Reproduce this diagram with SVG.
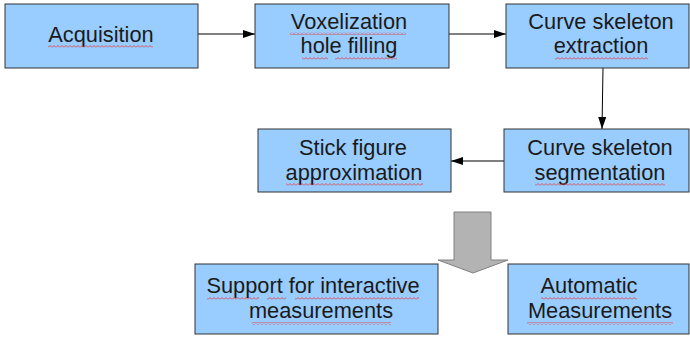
<svg xmlns="http://www.w3.org/2000/svg" width="690" height="337" viewBox="0 0 690 337">
<style>
.box{fill:#99ccff;stroke:#333;stroke-width:1}
.t{font-family:"Liberation Sans",Arial,sans-serif;font-size:21.8px;fill:#1a1a1a;text-anchor:middle}
.c{stroke:#000;stroke-width:1;fill:none;marker-end:url(#ah)}
.sq{fill:url(#wave)}
</style>
<defs>
<marker id="ah" viewBox="0 0 12 8" refX="12" refY="4" markerWidth="12" markerHeight="8" markerUnits="userSpaceOnUse" orient="auto">
<path d="M0 0 L12 4 L0 8 z" fill="#000"/>
</marker>
<pattern id="wave" width="4" height="3" patternUnits="userSpaceOnUse">
<path d="M0 2.5 L2 0.5 L4 2.5" stroke="#e04040" stroke-width="0.9" fill="none"/>
</pattern>
</defs>
<rect width="690" height="337" fill="#fff"/>
<g id="connectors">
<line class="c" x1="198" y1="34" x2="255" y2="34"/>
<line class="c" x1="449" y1="34" x2="506" y2="34"/>
<line class="c" x1="603" y1="68" x2="602" y2="129"/>
<line class="c" x1="504" y1="161" x2="451" y2="161"/>
<polygon id="bigArrow" points="454,212 491,212 491,260 508,260 473,273 438,260 454,260" fill="#b3b3b3" stroke="#808080" stroke-width="1"/>
</g>
<g id="acquisition">
<rect class="box" x="5" y="4" width="193" height="64"/>
<text class="t" x="101" y="42">Acquisition</text>
<rect class="sq" x="48" y="45" width="105" height="3"/>
</g>
<g id="voxelization">
<rect class="box" x="255" y="4" width="194" height="64"/>
<text class="t" x="349" y="29">Voxelization</text>
<text class="t" x="349" y="53">hole filling</text>
<rect class="sq" x="290" y="32" width="116" height="3"/>
<rect class="sq" x="302" y="57" width="26" height="3"/>
<rect class="sq" x="335" y="57" width="62" height="3"/>
</g>
<g id="extraction">
<rect class="box" x="506" y="4" width="183" height="64"/>
<text class="t" x="601" y="29">Curve skeleton</text>
<text class="t" x="601" y="53">extraction</text>
<rect class="sq" x="555" y="57" width="93" height="3"/>
</g>
<g id="segmentation">
<rect class="box" x="504" y="129" width="185" height="63"/>
<text class="t" x="600" y="155">Curve skeleton</text>
<text class="t" x="600" y="180">segmentation</text>
<rect class="sq" x="535" y="183" width="130" height="3"/>
</g>
<g id="stickfigure">
<rect class="box" x="258" y="129" width="193" height="63"/>
<text class="t" x="353" y="155">Stick figure</text>
<text class="t" x="354" y="180">approximation</text>
<rect class="sq" x="286" y="183" width="137" height="3"/>
</g>
<g id="interactive">
<rect class="box" x="195" y="264" width="243" height="70"/>
<text class="t" x="313" y="293">Support for interactive</text>
<text class="t" x="321" y="318">measurements</text>
<rect class="sq" x="207" y="297" width="52" height="3"/>
<rect class="sq" x="267" y="297" width="19" height="3"/>
<rect class="sq" x="295" y="297" width="124" height="3"/>
<rect class="sq" x="252" y="322" width="139" height="3"/>
</g>
<g id="automatic">
<rect class="box" x="508" y="264" width="181" height="70"/>
<text class="t" x="589" y="293">Automatic</text>
<text class="t" x="600" y="318">Measurements</text>
<rect class="sq" x="541" y="297" width="96" height="3"/>
<rect class="sq" x="527" y="322" width="146" height="3"/>
</g>
</svg>
